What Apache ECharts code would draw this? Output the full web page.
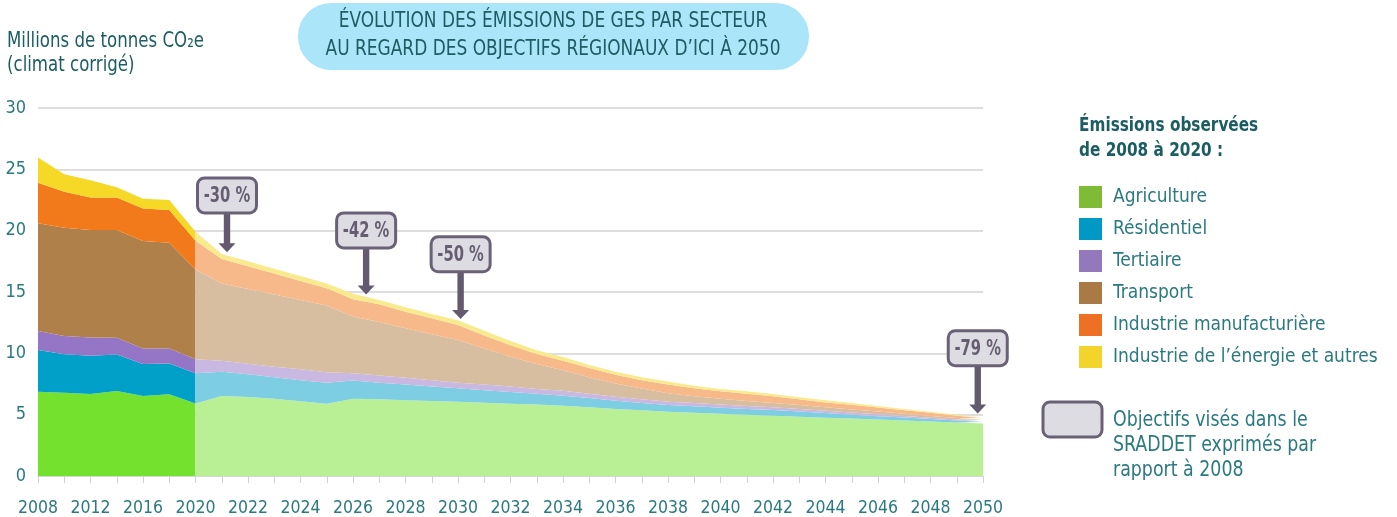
<!DOCTYPE html>
<html>
<head>
<meta charset="utf-8">
<script src="https://cdn.jsdelivr.net/npm/echarts@6/dist/echarts.min.js"></script>
<style>
html,body{margin:0;padding:0;background:#fff;}
#chart{width:1397px;height:517px;}
</style>
</head>
<body>
<div id="chart"></div>
<script>
// ---- Tick labels / categories ----
const years = ['2008','2010','2012','2014','2016','2018','2020','2021','2022','2023','2024','2025','2026','2027','2028','2029','2030','2031','2032','2033','2034','2035','2036','2037','2038','2039','2040','2041','2042','2043','2044','2045','2046','2047','2048','2049','2050'];

const sectorNames = ['Agriculture','Résidentiel','Tertiaire','Transport','Industrie manufacturière',"Industrie de l’énergie et autres"];

// ---- Observed emissions 2008-2020 (Mt CO2e), one value per category 2008..2020 ----
const obsAgriculture = [6.87, 6.79, 6.68, 6.93, 6.52, 6.66, 5.92];
const obsResidentiel = [3.40, 3.13, 3.13, 2.97, 2.61, 2.52, 2.45];
const obsTertiaire   = [1.55, 1.49, 1.49, 1.37, 1.27, 1.22, 1.14];
const obsTransport   = [8.78, 8.83, 8.75, 8.78, 8.75, 8.61, 7.33];
const obsManuf       = [3.30, 2.93, 2.66, 2.66, 2.66, 2.67, 2.34];
const obsEnergie     = [2.07, 1.42, 1.41, 0.82, 0.79, 0.81, 0.73];

// ---- SRADDET trajectory 2020-2050 (Mt CO2e), one value per year ----
const objAgriculture = [5.92, 6.52, 6.45, 6.30, 6.10, 5.90, 6.30, 6.25, 6.18, 6.12, 6.06,
                        5.98, 5.90, 5.82, 5.73, 5.60, 5.46, 5.35, 5.24, 5.16, 5.08,
                        5.00, 4.91, 4.83, 4.75, 4.68, 4.60, 4.52, 4.44, 4.37, 4.29];
const objResidentiel = [2.45, 1.98, 1.85, 1.75, 1.70, 1.70, 1.48, 1.35, 1.27, 1.18, 1.09,
                        1.02, 0.95, 0.88, 0.82, 0.75, 0.68, 0.60, 0.55, 0.52, 0.48,
                        0.47, 0.47, 0.42, 0.38, 0.32, 0.28, 0.24, 0.20, 0.15, 0.11];
const objTertiaire   = [1.14, 0.90, 0.85, 0.85, 0.90, 0.85, 0.59, 0.60, 0.55, 0.50, 0.45,
                        0.45, 0.45, 0.40, 0.40, 0.35, 0.32, 0.30, 0.27, 0.27, 0.26,
                        0.23, 0.22, 0.21, 0.19, 0.17, 0.15, 0.13, 0.11, 0.08, 0.06];
const objTransport   = [7.33, 6.30, 6.10, 5.90, 5.65, 5.45, 4.63, 4.35, 4.05, 3.75, 3.48,
                        2.95, 2.42, 2.03, 1.67, 1.35, 1.09, 0.88, 0.68, 0.55, 0.48,
                        0.42, 0.35, 0.32, 0.28, 0.25, 0.22, 0.19, 0.15, 0.13, 0.10];
const objManuf       = [2.34, 2.00, 1.85, 1.70, 1.55, 1.40, 1.40, 1.45, 1.35, 1.30, 1.22,
                        1.05, 0.93, 0.82, 0.78, 0.75, 0.70, 0.67, 0.71, 0.65, 0.60,
                        0.58, 0.55, 0.47, 0.40, 0.38, 0.33, 0.29, 0.25, 0.19, 0.14];
const objEnergie     = [0.73, 0.40, 0.40, 0.40, 0.40, 0.40, 0.45, 0.35, 0.35, 0.35, 0.40,
                        0.40, 0.35, 0.30, 0.30, 0.25, 0.25, 0.25, 0.25, 0.20, 0.20,
                        0.20, 0.18, 0.17, 0.18, 0.15, 0.12, 0.10, 0.09, 0.08, 0.08];

// ---- SRADDET objective callouts ----
const annoLabels = ['-30 %', '-42 %', '-50 %', '-79 %'];
const annoYears  = [2021.2, 2026.5, 2030.1, 2049.8];
const annoTip    = [18.25, 14.8, 12.8, 5.1];
const annoBoxTop = [24.3, 21.45, 19.5, 11.85];

// ---- styling ----
const FONT = "'Liberation Sans Narrow', 'DejaVu Sans Condensed', 'Roboto', sans-serif";
const TEAL = '#2a7a80';
const DARKTEAL = '#1b5d62';
const obsColors = ['#74e12f', '#00a0c8', '#9575c6', '#b0804b', '#f27a1b', '#f5d926'];
const objColors = ['#b9f096', '#7dcde3', '#c9b8e1', '#d8bea1', '#f8b98a', '#faea8e'];
const legendColors = ['#80bb35', '#0098c4', '#9478be', '#a97a45', '#ed7024', '#f2d42a'];

const obsData = [obsAgriculture, obsResidentiel, obsTertiaire, obsTransport, obsManuf, obsEnergie];
const objData = [objAgriculture, objResidentiel, objTertiaire, objTransport, objManuf, objEnergie];

const nObs = obsAgriculture.length;
function padObs(arr){ return years.map((y,i)=> i < nObs ? arr[i] : null); }
function padObj(arr){ return years.map((y,i)=> i >= nObs-1 ? arr[i-(nObs-1)] : null); }

const series = [];
obsData.forEach((arr, k) => {
  series.push({
    name: sectorNames[k], type: 'line', stack: 'obs', data: padObs(arr),
    showSymbol: false, symbol: 'none', smooth: false,
    lineStyle: { width: 0 },
    itemStyle: { color: obsColors[k] },
    areaStyle: { color: obsColors[k], opacity: 1 },
    z: 2, silent: true
  });
});
objData.forEach((arr, k) => {
  series.push({
    name: sectorNames[k] + ' (objectif)', type: 'line', stack: 'obj', data: padObj(arr),
    showSymbol: false, symbol: 'none', smooth: false,
    lineStyle: { width: 0 },
    itemStyle: { color: objColors[k] },
    areaStyle: { color: objColors[k], opacity: 1 },
    z: 2, silent: true
  });
});

const chart = echarts.init(document.getElementById('chart'), null, { renderer: 'canvas' });

const option = {
  animation: false,
  backgroundColor: '#ffffff',
  grid: { left: 38, right: 414, top: 108, bottom: 41, containLabel: false },
  xAxis: {
    type: 'category', data: years, boundaryGap: false,
    axisLine: { show: true, lineStyle: { color: '#d6d6d6', width: 1 } },
    axisTick: { show: true, interval: 0, length: 7, lineStyle: { color: '#d0d0d0' } },
    axisLabel: { interval: 1, color: TEAL, fontFamily: FONT, fontSize: 17.5, margin: 23 },
    splitLine: { show: false }
  },
  yAxis: {
    type: 'value', min: 0, max: 30, interval: 5,
    axisLine: { show: false }, axisTick: { show: false },
    axisLabel: { color: TEAL, fontFamily: FONT, fontSize: 18, margin: 12, padding: [0,0,10,0] },
    splitLine: { show: true, lineStyle: { color: '#dedede', width: 2 } }
  },
  legend: {
    orient: 'vertical', left: 1079, top: 186, padding: 0,
    itemWidth: 23, itemHeight: 22, itemGap: 10, icon: 'rect',
    selectedMode: false,
    textStyle: { color: TEAL, fontFamily: FONT, fontSize: 19, padding: [0,0,0,6] },
    data: sectorNames.map((n,k)=>({ name: n, itemStyle: { color: legendColors[k] } }))
  },
  series: series,
  graphic: []
};
chart.setOption(option);

function label(x, y, text, font, fill, align, sx){
  return { type: 'text', x: x, y: y, scaleX: sx, z: 11,
           style: { text: text, fill: fill, font: font, align: align, verticalAlign: 'middle' } };
}

// ---- static decorations (title pill, axis title, legend header & objective key) ----
const staticGraphics = [
  { type: 'rect', shape: { x: 298, y: 3, width: 511, height: 67, r: 33 }, style: { fill: '#abe5fa' }, z: 10 },
  label(553, 22, 'ÉVOLUTION DES ÉMISSIONS DE GES PAR SECTEUR', '21px ' + FONT, DARKTEAL, 'center', 0.9),
  label(553, 50, 'AU REGARD DES OBJECTIFS RÉGIONAUX D’ICI À 2050', '21px ' + FONT, DARKTEAL, 'center', 0.9),
  label(7, 42, 'Millions de tonnes CO₂e', '21px ' + FONT, DARKTEAL, 'left', 0.88),
  label(7, 66, '(climat corrigé)', '21px ' + FONT, DARKTEAL, 'left', 0.88),
  label(1079, 126, 'Émissions observées', 'bold 20px ' + FONT, DARKTEAL, 'left', 0.85),
  label(1079, 151, 'de 2008 à 2020 :', 'bold 20px ' + FONT, DARKTEAL, 'left', 0.85),
  { type: 'rect', shape: { x: 1043, y: 402, width: 59, height: 35, r: 7 }, style: { fill: '#dddce2', stroke: '#6a6176', lineWidth: 3 }, z: 11 },
  label(1113, 420, 'Objectifs visés dans le', '21.5px ' + FONT, TEAL, 'left', 0.9),
  label(1113, 445, 'SRADDET exprimés par', '21.5px ' + FONT, TEAL, 'left', 0.9),
  label(1113, 470, 'rapport à 2008', '21.5px ' + FONT, TEAL, 'left', 0.9)
];

// ---- callouts placed via the chart's own scales ----
function xOfYear(yr){
  for (let i = 0; i < years.length - 1; i++) {
    const a = +years[i], b = +years[i+1];
    if (yr >= a && yr <= b) {
      const pa = chart.convertToPixel({ xAxisIndex: 0 }, years[i]);
      const pb = chart.convertToPixel({ xAxisIndex: 0 }, years[i+1]);
      return pa + (pb - pa) * (yr - a) / (b - a);
    }
  }
  return chart.convertToPixel({ xAxisIndex: 0 }, years[years.length-1]);
}
const annoGraphics = [];
annoLabels.forEach((lab, k) => {
  const cx = xOfYear(annoYears[k]);
  const tipY = chart.convertToPixel({ yAxisIndex: 0 }, annoTip[k]);
  const boxY = chart.convertToPixel({ yAxisIndex: 0 }, annoBoxTop[k]);
  const bw = 59, bh = 35;
  const headH = 9, headW = 17;
  annoGraphics.push(
    { type: 'rect', shape: { x: cx - 3.2, y: boxY + bh, width: 6.4, height: tipY - headH - (boxY + bh) + 1 }, style: { fill: '#635a70' }, z: 20 },
    { type: 'polygon', shape: { points: [[cx - headW/2, tipY - headH], [cx + headW/2, tipY - headH], [cx, tipY]] }, style: { fill: '#635a70' }, z: 20 },
    { type: 'rect', shape: { x: cx - bw/2, y: boxY, width: bw, height: bh, r: 7 }, style: { fill: '#dddce2', stroke: '#6a6176', lineWidth: 3 }, z: 21 },
    { type: 'text', x: cx, y: boxY + bh/2 + 1, scaleX: 0.78, z: 22,
      style: { text: lab, fill: '#665d72', font: 'bold 21px ' + FONT, align: 'center', verticalAlign: 'middle' } }
  );
});

chart.setOption({ graphic: staticGraphics.concat(annoGraphics) });
</script>
</body>
</html>
